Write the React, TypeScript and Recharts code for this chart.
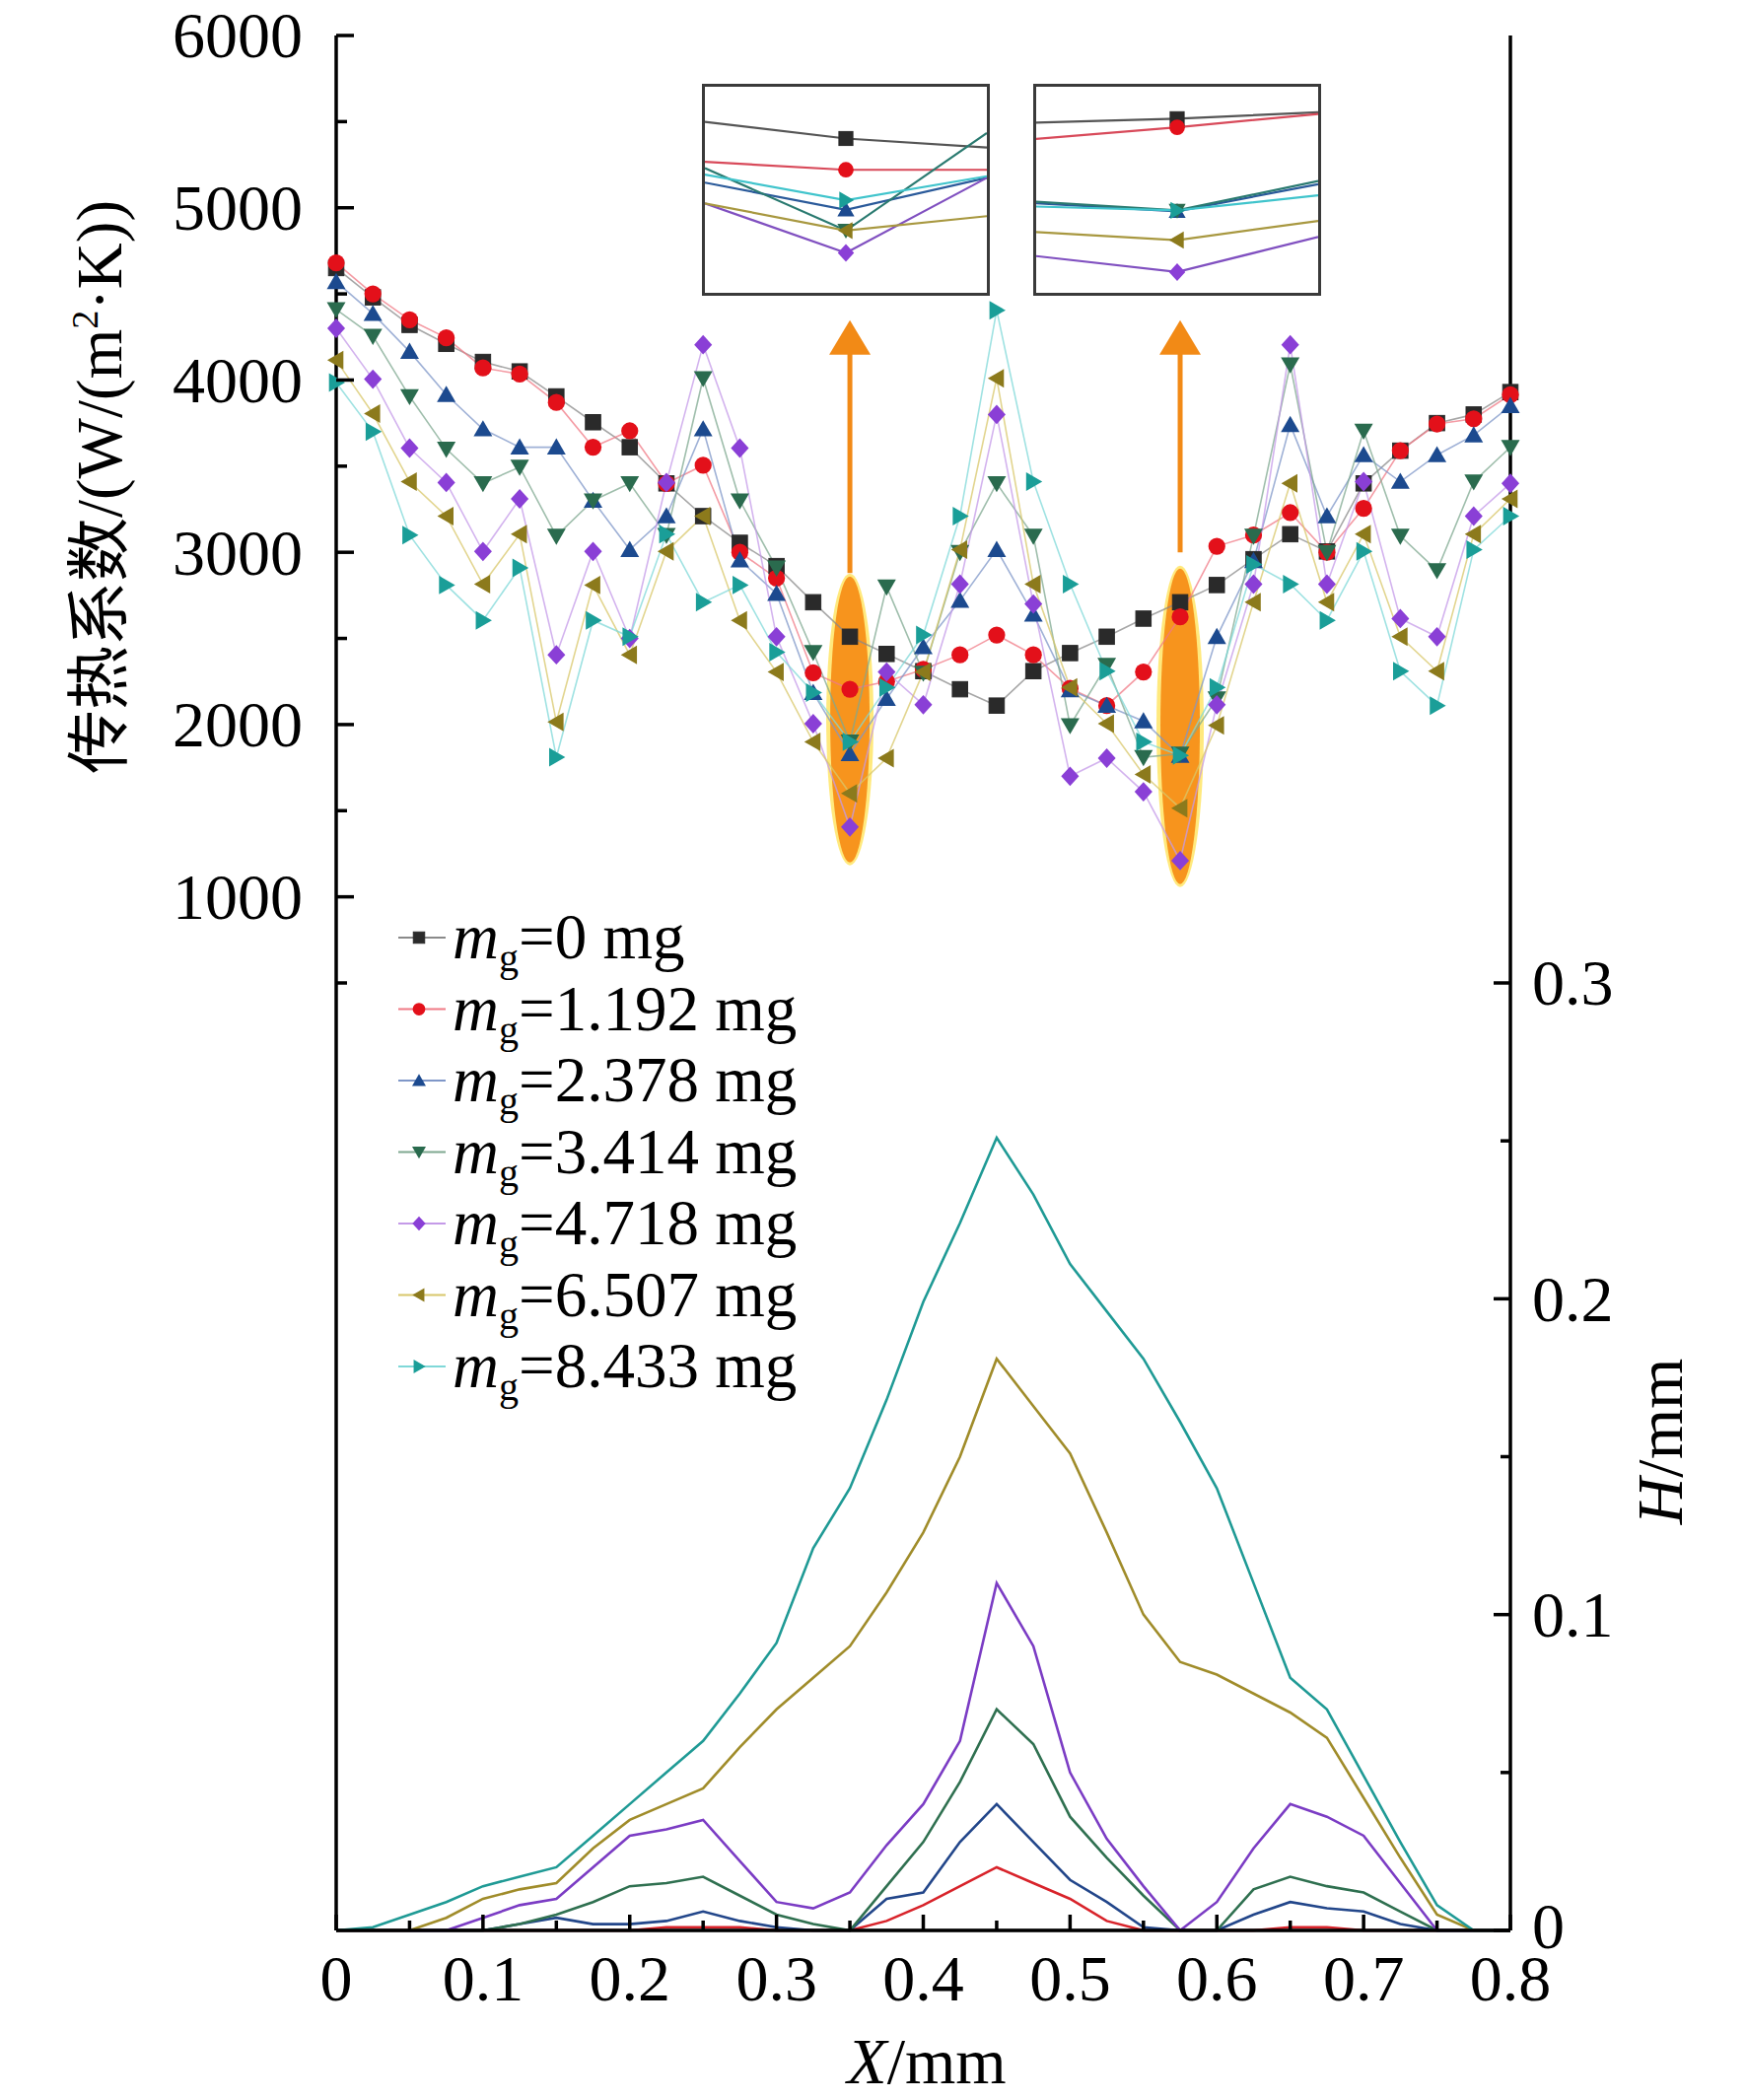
import React from 'react';
import { LineChart, Line, XAxis, YAxis, ReferenceDot, ReferenceLine } from 'recharts';

// ---------------- DATA ----------------
const X_VALUES = [0, 0.025, 0.05, 0.075, 0.1, 0.125, 0.15, 0.175, 0.2, 0.225, 0.25, 0.275, 0.3, 0.325, 0.35, 0.375, 0.4, 0.425, 0.45, 0.475, 0.5, 0.525, 0.55, 0.575, 0.6, 0.625, 0.65, 0.675, 0.7, 0.725, 0.75, 0.775, 0.8];

const SERIES_LABELS = ['0', '1.192', '2.378', '3.414', '4.718', '6.507', '8.433'];

// heat transfer coefficient, W/(m2K)
const HTC_0 = [4650, 4480, 4320, 4210, 4105, 4050, 3905, 3755, 3610, 3400, 3210, 3055, 2920, 2710, 2510, 2410, 2310, 2205, 2110, 2310, 2415, 2510, 2615, 2710, 2810, 2960, 3105, 3005, 3400, 3590, 3750, 3800, 3930];
const HTC_1 = [4680, 4500, 4350, 4245, 4070, 4035, 3870, 3610, 3705, 3400, 3505, 3000, 2850, 2300, 2205, 2250, 2320, 2405, 2520, 2405, 2210, 2110, 2305, 2625, 3035, 3100, 3230, 3000, 3255, 3590, 3745, 3775, 3915];
const HTC_2 = [4570, 4385, 4165, 3915, 3715, 3610, 3610, 3300, 3015, 3210, 3715, 2955, 2760, 2185, 1830, 2150, 2450, 2720, 3015, 2640, 2200, 2110, 2020, 1820, 2510, 2950, 3740, 3210, 3565, 3410, 3565, 3680, 3850];
const HTC_3 = [4410, 4255, 3905, 3600, 3400, 3495, 3095, 3300, 3400, 3100, 4010, 3300, 2910, 2420, 1900, 2800, 2300, 3000, 3400, 3095, 1995, 2345, 1810, 1830, 2150, 3095, 4090, 3000, 3705, 3095, 2895, 3410, 3610];
const HTC_4 = [4300, 4005, 3605, 3405, 3005, 3310, 2405, 3005, 2500, 3405, 4205, 3605, 2510, 2005, 1405, 2305, 2115, 2815, 3800, 2700, 1700, 1805, 1610, 1210, 2115, 2815, 4205, 2815, 3410, 2615, 2510, 3210, 3400];
const HTC_5 = [4115, 3805, 3410, 3210, 2815, 3105, 2015, 2810, 2405, 3005, 3210, 2605, 2305, 1900, 1600, 1805, 2305, 3015, 4010, 2815, 2215, 2005, 1710, 1515, 1995, 2710, 3400, 2710, 3105, 2510, 2310, 3105, 3310];
const HTC_6 = [3985, 3700, 3100, 2810, 2605, 2910, 1810, 2605, 2510, 3105, 2710, 2810, 2420, 2185, 1900, 2215, 2520, 3210, 4405, 3410, 2815, 2310, 1900, 1820, 2215, 2930, 2815, 2605, 3005, 2310, 2110, 3015, 3210];

// deposit height H, mm
const H_0 = [0, 0, 0, 0, 0, 0, 0, 0, 0, 0, 0, 0, 0, 0, 0, 0, 0, 0, 0, 0, 0, 0, 0, 0, 0, 0, 0, 0, 0, 0, 0, 0, 0];
const H_1 = [0, 0, 0, 0, 0, 0, 0, 0, 0, 0.001, 0.001, 0.001, 0, 0, 0, 0.003, 0.008, 0.014, 0.02, 0.015, 0.01, 0.003, 0, 0, 0, 0, 0.001, 0.001, 0, 0, 0, 0, 0];
const H_2 = [0, 0, 0, 0, 0, 0.002, 0.004, 0.002, 0.002, 0.003, 0.006, 0.003, 0.001, 0, 0, 0.01, 0.012, 0.028, 0.04, 0.028, 0.016, 0.009, 0.001, 0, 0, 0.005, 0.009, 0.007, 0.006, 0.002, 0, 0, 0];
const H_3 = [0, 0, 0, 0, 0, 0.002, 0.005, 0.009, 0.014, 0.015, 0.017, 0.011, 0.005, 0.002, 0, 0.014, 0.028, 0.047, 0.07, 0.059, 0.036, 0.023, 0.011, 0, 0, 0.013, 0.017, 0.014, 0.012, 0.006, 0, 0, 0];
const H_4 = [0, 0, 0, 0, 0.004, 0.008, 0.01, 0.02, 0.03, 0.032, 0.035, 0.022, 0.009, 0.007, 0.012, 0.027, 0.04, 0.06, 0.11, 0.09, 0.05, 0.029, 0.014, 0, 0.009, 0.026, 0.04, 0.036, 0.03, 0.015, 0, 0, 0];
const H_5 = [0, 0, 0, 0.004, 0.01, 0.013, 0.015, 0.026, 0.035, 0.04, 0.045, 0.058, 0.07, 0.08, 0.09, 0.107, 0.126, 0.15, 0.181, 0.166, 0.151, 0.126, 0.1, 0.085, 0.081, 0.075, 0.069, 0.061, 0.042, 0.023, 0.005, 0, 0];
const H_6 = [0, 0.001, 0.005, 0.009, 0.014, 0.017, 0.02, 0.03, 0.04, 0.05, 0.06, 0.075, 0.091, 0.121, 0.14, 0.168, 0.199, 0.224, 0.251, 0.233, 0.211, 0.196, 0.181, 0.161, 0.14, 0.11, 0.08, 0.07, 0.049, 0.028, 0.008, 0, 0];

// axis ticks
const X_TICKS = [0, 0.05, 0.1, 0.15, 0.2, 0.25, 0.3, 0.35, 0.4, 0.45, 0.5, 0.55, 0.6, 0.65, 0.7, 0.75, 0.8];
const X_LABELS = ['0', '', '0.1', '', '0.2', '', '0.3', '', '0.4', '', '0.5', '', '0.6', '', '0.7', '', '0.8'];
const LEFT_TICKS = [500, 1000, 1500, 2000, 2500, 3000, 3500, 4000, 4500, 5000, 5500, 6000];
const LEFT_LABELS = ['', '1000', '', '2000', '', '3000', '', '4000', '', '5000', '', '6000'];
const RIGHT_TICKS = [0, 0.05, 0.1, 0.15, 0.2, 0.25, 0.3];
const RIGHT_LABELS = ['0', '', '0.1', '', '0.2', '', '0.3'];

// zoomed insets (relative units), points: left edge, marked point, right edge
const INSET_X = [0, 3, 6];
const INSET1_BLACK = [545, 493, 465];
const INSET1_RED = [420, 395, 395];
const INSET1_CYAN = [380, 300, 375];
const INSET1_BLUE = [355, 270, 370];
const INSET1_GREEN = [400, 205, 510];
const INSET1_OLIVE = [290, 205, 250];
const INSET1_PURPLE = [290, 135, 370];
const INSET2_BLACK = [543, 555, 575];
const INSET2_RED = [492, 528, 570];
const INSET2_CYAN = [280, 268, 315];
const INSET2_BLUE = [290, 265, 350];
const INSET2_GREEN = [295, 268, 360];
const INSET2_OLIVE = [200, 175, 235];
const INSET2_PURPLE = [125, 75, 185];

// ---------------- STYLE ----------------
const FONT = '"Liberation Serif", "Times New Roman", serif';
const CJK = '"Noto Sans CJK SC", sans-serif';
const MARKER_COLORS = ['#2a2a2a', '#e3101a', '#1c4a8f', '#2a6b4e', '#8a3fd6', '#8c7a1c', '#1a9e98'];
const LINE_COLORS = ['#8a8a8a', '#f07a85', '#7f97c8', '#7fa890', '#c49ae8', '#d8c76a', '#7fd8d8'];
const H_COLORS = ['#222222', '#d8232a', '#22468a', '#2f7050', '#7b3cc4', '#a08c2a', '#1f9a95'];
const SHAPES = ['square', 'circle', 'up', 'down', 'diamond', 'left', 'right'];
const ORANGE = '#f28a16';
const TICK_FONT = 66;

const HTC_ALL = [HTC_0, HTC_1, HTC_2, HTC_3, HTC_4, HTC_5, HTC_6];
const H_ALL = [H_0, H_1, H_2, H_3, H_4, H_5, H_6];

const data = X_VALUES.map((x, i) => {
  const row: any = { x };
  HTC_ALL.forEach((s, k) => { row['htc' + k] = s[i]; });
  H_ALL.forEach((s, k) => { row['h' + k] = s[i]; });
  return row;
});

const inset1Data = INSET_X.map((x, i) => ({
  x, k0: INSET1_BLACK[i], k1: INSET1_RED[i], k2: INSET1_BLUE[i], k3: INSET1_GREEN[i],
  k4: INSET1_PURPLE[i], k5: INSET1_OLIVE[i], k6: INSET1_CYAN[i],
}));
const inset2Data = INSET_X.map((x, i) => ({
  x, k0: INSET2_BLACK[i], k1: INSET2_RED[i], k2: INSET2_BLUE[i], k3: INSET2_GREEN[i],
  k4: INSET2_PURPLE[i], k5: INSET2_OLIVE[i], k6: INSET2_CYAN[i],
}));

function Marker({ cx, cy, shape, color, s = 1 }: any) {
  if (cx == null || cy == null || isNaN(cx) || isNaN(cy)) return null;
  const r = 7.5 * s;
  switch (shape) {
    case 'square':
      return <rect x={cx - r * 0.9} y={cy - r * 0.9} width={r * 1.8} height={r * 1.8} fill={color} stroke={color} strokeWidth={1} />;
    case 'circle':
      return <circle cx={cx} cy={cy} r={r} fill={color} />;
    case 'up':
      return <polygon points={`${cx},${cy - r * 1.05} ${cx - r * 1.1},${cy + r * 0.85} ${cx + r * 1.1},${cy + r * 0.85}`} fill={color} />;
    case 'down':
      return <polygon points={`${cx},${cy + r * 1.05} ${cx - r * 1.1},${cy - r * 0.85} ${cx + r * 1.1},${cy - r * 0.85}`} fill={color} />;
    case 'diamond':
      return <polygon points={`${cx},${cy - r * 1.15} ${cx + r * 1.05},${cy} ${cx},${cy + r * 1.15} ${cx - r * 1.05},${cy}`} fill={color} />;
    case 'left':
      return <polygon points={`${cx - r * 1.05},${cy} ${cx + r * 0.85},${cy - r * 1.1} ${cx + r * 0.85},${cy + r * 1.1}`} fill={color} />;
    case 'right':
      return <polygon points={`${cx + r * 1.05},${cy} ${cx - r * 0.85},${cy - r * 1.1} ${cx - r * 0.85},${cy + r * 1.1}`} fill={color} />;
    default:
      return null;
  }
}

const LeftTick = (props: any) => {
  const { x, y, payload, index } = props;
  const v = payload.value;
  const major = v % 1000 === 0;
  return (
    <g>
      <line x1={x} x2={x + (major ? 18 : 11)} y1={y} y2={y} stroke="#000" strokeWidth={3.5} />
      {LEFT_LABELS[index] ? (
        <text x={x - 34} y={y} dy="0.34em" textAnchor="end" fontFamily={FONT} fontSize={TICK_FONT} fill="#000">{LEFT_LABELS[index]}</text>
      ) : null}
    </g>
  );
};

const BottomTick = (props: any) => {
  const { x, y, index } = props;
  const major = index % 2 === 0;
  return (
    <g>
      <line x1={x} x2={x} y1={y} y2={y - (major ? 16 : 10)} stroke="#000" strokeWidth={3.5} />
      {X_LABELS[index] ? (
        <text x={x} y={y + 49} dy="0.34em" textAnchor="middle" fontFamily={FONT} fontSize={TICK_FONT} fill="#000">{X_LABELS[index]}</text>
      ) : null}
    </g>
  );
};

const RightTick = (props: any) => {
  const { x, y, index } = props;
  const major = index % 2 === 0;
  return (
    <g>
      <line x1={x} x2={x - (major ? 17 : 10)} y1={y} y2={y} stroke="#000" strokeWidth={3.5} />
      {RIGHT_LABELS[index] ? (
        <text x={x + 22} y={index === 0 ? y - 4 : y} dy="0.34em" textAnchor="start" fontFamily={FONT} fontSize={TICK_FONT} fill="#000">{RIGHT_LABELS[index]}</text>
      ) : null}
    </g>
  );
};

const InsetTick = (props: any) => {
  const { x, y } = props;
  return <line x1={x} x2={x} y1={y} y2={y - 4} stroke="#444" strokeWidth={2} />;
};

const EllipseShape = (ry: number) => (props: any) => {
  const { cx, cy } = props;
  if (cx == null || cy == null) return <g />;
  return (
    <g>
      <ellipse cx={cx} cy={cy} rx={24} ry={ry + 3} fill="#ffe45c" opacity={0.8} />
      <ellipse cx={cx} cy={cy} rx={20} ry={ry} fill="#f7941d" />
    </g>
  );
};

const ArrowHead = (props: any) => {
  const { cx, cy } = props;
  if (cx == null || cy == null) return <g />;
  return <polygon points={`${cx},${cy} ${cx - 21},${cy + 35} ${cx + 21},${cy + 35}`} fill={ORANGE} />;
};

function Inset({ left, top, d, ticks }: any) {
  const keys = ['k0', 'k1', 'k2', 'k3', 'k4', 'k5', 'k6'];
  const insetLineColors = ['#555555', '#d84a5a', '#2a5a9a', '#2a7a70', '#8050c0', '#a89840', '#40c4cc'];
  return (
    <div style={{ position: 'absolute', left, top, width: 292, height: 215, border: '3px solid #3a3a3a', boxSizing: 'border-box', background: '#fff' }}>
      <LineChart width={286} height={209} data={d} margin={{ top: 0, right: 0, bottom: 0, left: 0 }}>
        <XAxis dataKey="x" type="number" domain={[0, 6]} ticks={ticks} interval={0} height={0} axisLine={false} tickLine={false} tickSize={0} tickMargin={0} tick={<InsetTick />} />
        <YAxis type="number" domain={[10, 655]} hide />
        {keys.map((k, i) => (
          <Line key={k} dataKey={k} type="linear" stroke={insetLineColors[i]} strokeWidth={2.2} isAnimationActive={false}
            dot={(p: any) => (p.index === 1 ? <Marker key={`${k}-${p.index}`} cx={p.cx} cy={p.cy} shape={SHAPES[i]} color={MARKER_COLORS[i]} s={1.05} /> : <g key={`${k}-${p.index}`} />)} />
        ))}
      </LineChart>
    </div>
  );
}

export default function App() {
  const legendRows = SERIES_LABELS.map((lab, i) => ({ lab, i, y: 951 + i * 72.5 }));
  return (
    <div style={{ position: 'absolute', left: 0, top: 0, width: 1772, height: 2130, background: '#fff', overflow: 'hidden' }}>
      <LineChart width={1772} height={2130} data={data} margin={{ top: 36, right: 40, bottom: 0, left: 0 }}>
        <XAxis xAxisId="b" dataKey="x" type="number" domain={[0, 0.8]} ticks={X_TICKS} interval={0} height={172}
          axisLine={{ stroke: '#000', strokeWidth: 3.5 }} tickLine={false} tickSize={0} tickMargin={0} tick={<BottomTick />} />
        <XAxis xAxisId="t" orientation="top" dataKey="x" type="number" domain={[0, 0.8]} height={0}
          axisLine={{ stroke: '#000', strokeWidth: 3.5 }} tick={false} tickLine={false} />
        <YAxis yAxisId="l" type="number" domain={[-5000, 6000]} ticks={LEFT_TICKS} interval={0} width={341}
          axisLine={{ stroke: '#000', strokeWidth: 3.5 }} tickLine={false} tickSize={0} tickMargin={0} tick={<LeftTick />} />
        <YAxis yAxisId="r" orientation="right" type="number" domain={[0, 0.6]} ticks={RIGHT_TICKS} interval={0} width={200}
          axisLine={{ stroke: '#000', strokeWidth: 3.5 }} tickLine={false} tickSize={0} tickMargin={0} tick={<RightTick />} />

        {H_ALL.map((_, k) => (
          <Line key={'h' + k} xAxisId="b" yAxisId="r" dataKey={'h' + k} type="linear" stroke={H_COLORS[k]} strokeWidth={2.6}
            dot={false} activeDot={false} isAnimationActive={false} />
        ))}

        <ReferenceDot xAxisId="b" yAxisId="l" x={0.35} y={2030} r={1} shape={EllipseShape(145)} ifOverflow="visible" zIndex={350} />
        <ReferenceDot xAxisId="b" yAxisId="l" x={0.575} y={1990} r={1} shape={EllipseShape(160)} ifOverflow="visible" zIndex={350} />

        {HTC_ALL.map((_, k) => (
          <Line key={'t' + k} xAxisId="b" yAxisId="l" dataKey={'htc' + k} type="linear" stroke={LINE_COLORS[k]} strokeWidth={1.6}
            strokeOpacity={0.75} activeDot={false} isAnimationActive={false}
            dot={(p: any) => <Marker key={`m${k}-${p.index}`} cx={p.cx} cy={p.cy} shape={SHAPES[k]} color={MARKER_COLORS[k]} s={1.15} />} />
        ))}

        <ReferenceLine xAxisId="b" yAxisId="l" segment={[{ x: 0.35, y: 2880 }, { x: 0.35, y: 4160 }]} stroke={ORANGE} strokeWidth={5} ifOverflow="visible" />
        <ReferenceLine xAxisId="b" yAxisId="l" segment={[{ x: 0.575, y: 3000 }, { x: 0.575, y: 4160 }]} stroke={ORANGE} strokeWidth={5} ifOverflow="visible" />
        <ReferenceDot xAxisId="b" yAxisId="l" x={0.35} y={4347} r={1} shape={ArrowHead} ifOverflow="visible" />
        <ReferenceDot xAxisId="b" yAxisId="l" x={0.575} y={4347} r={1} shape={ArrowHead} ifOverflow="visible" />
      </LineChart>

      <Inset left={712} top={85} d={inset1Data} ticks={[1, 2, 3, 4, 5]} />
      <Inset left={1048} top={85} d={inset2Data} ticks={[1.5, 3, 4.5]} />

      <svg width={1772} height={2130} style={{ position: 'absolute', left: 0, top: 0, pointerEvents: 'none' }}>
        {/* left axis title */}
        <text transform="rotate(-90 100 494)" x={100} y={494} dy="0.36em" textAnchor="middle" fontSize={65} fill="#000" fontFamily={FONT}>
          <tspan fontFamily={CJK}>传热系数</tspan>
          <tspan>/(W/(m</tspan>
          <tspan fontSize={38} dy={-24}>2</tspan>
          <tspan dy={24}>·K))</tspan>
        </text>
        {/* right axis title */}
        <text transform="rotate(-90 1684 1462)" x={1684} y={1462} dy="0.34em" textAnchor="middle" fontSize={66} fill="#000" fontFamily={FONT}>
          <tspan fontStyle="italic">H</tspan>
          <tspan>/mm</tspan>
        </text>
        {/* x axis title */}
        <text x={940} y={2113} textAnchor="middle" fontSize={66} fill="#000" fontFamily={FONT}>
          <tspan fontStyle="italic">X</tspan>
          <tspan>/mm</tspan>
        </text>
        {/* legend */}
        {legendRows.map(({ lab, i, y }) => (
          <g key={lab}>
            <line x1={404} x2={452} y1={y} y2={y} stroke={LINE_COLORS[i]} strokeWidth={1.8} />
            <Marker cx={425} cy={y} shape={SHAPES[i]} color={MARKER_COLORS[i]} s={0.85} />
            <text x={459} y={y + 21} fontSize={65} fill="#000" fontFamily={FONT}>
              <tspan fontStyle="italic">m</tspan>
              <tspan fontSize={40} dy={13}>g</tspan>
              <tspan dy={-13}>={lab} mg</tspan>
            </text>
          </g>
        ))}
      </svg>
    </div>
  );
}
